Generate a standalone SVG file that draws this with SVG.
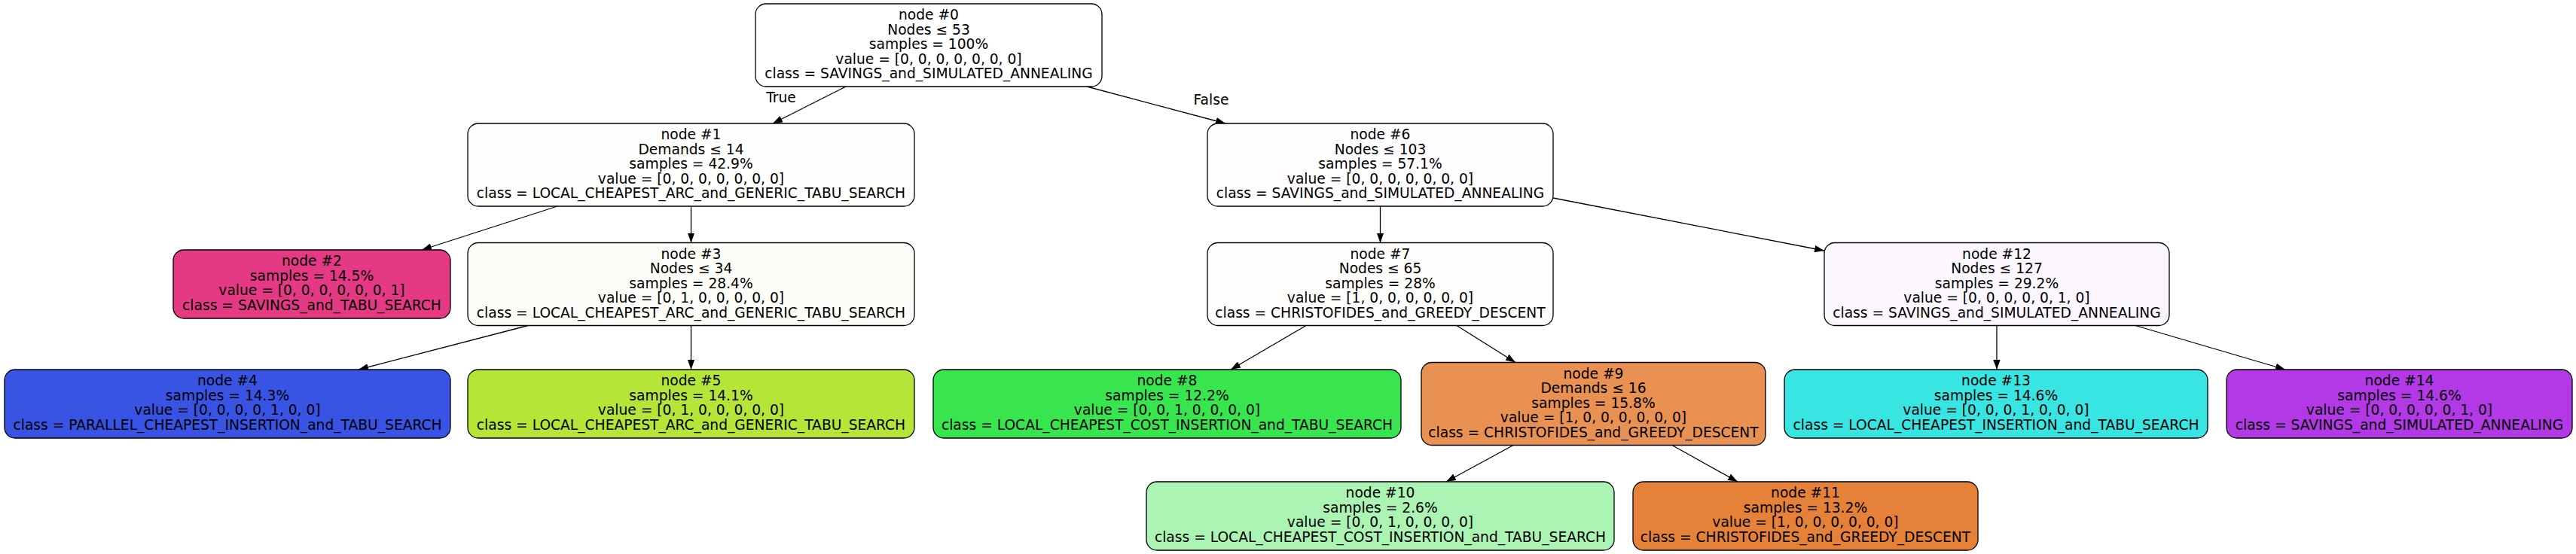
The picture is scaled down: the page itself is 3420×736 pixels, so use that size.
<svg xmlns="http://www.w3.org/2000/svg" width="3420" height="736" viewBox="0 0 3420 736">
<style>
.n rect{stroke:#000;stroke-width:1.3}
text{font-family:"DejaVu Sans",sans-serif;font-size:18.67px;fill:#000;text-anchor:middle}
.e path{stroke:#000;stroke-width:1.3;fill:none;marker-end:url(#ah)}
</style>
<defs>
<marker id="ah" viewBox="0 0 13 9.4" refX="13" refY="4.7" markerWidth="13" markerHeight="9.4" markerUnits="userSpaceOnUse" orient="auto">
<path d="M0,0 L13,4.7 L0,9.4 z" fill="#000"/>
</marker>
</defs>
<rect width="3420" height="736" fill="#fff"/>
<g class="e" id="edges">
<path d="M1123,115 L1026,164"/>
<path d="M1443,115 L1627,164"/>
<path d="M740,274 L560,332"/>
<path d="M917.5,274 L917.5,322.5"/>
<path d="M701,432.5 L476,491"/>
<path d="M917.5,432.5 L917.5,491"/>
<path d="M1832.5,274 L1832.5,322.5"/>
<path d="M2062,263 L2422,333"/>
<path d="M1734,432.5 L1634,491"/>
<path d="M1934,432.5 L2012,481.5"/>
<path d="M2651,432.5 L2651,491"/>
<path d="M2835,432.5 L3034,491"/>
<path d="M2009,591.5 L1920,640"/>
<path d="M2220,591.5 L2307,640"/>
<text x="1037" y="136">True</text>
<text x="1608" y="139">False</text>
</g>
<g class="n" id="node0">
<rect x="1003" y="5" width="460" height="110" rx="14" fill="#ffffff"/>
<text x="1233" y="26">node #0</text>
<text x="1233" y="45.5">Nodes ≤ 53</text>
<text x="1233" y="65">samples = 100%</text>
<text x="1233" y="84.5">value = [0, 0, 0, 0, 0, 0, 0]</text>
<text x="1233" y="104">class = SAVINGS_and_SIMULATED_ANNEALING</text>
</g>
<g class="n" id="node1">
<rect x="621" y="164" width="593" height="110" rx="14" fill="#fefffc"/>
<text x="917.5" y="185">node #1</text>
<text x="917.5" y="204.5">Demands ≤ 14</text>
<text x="917.5" y="224">samples = 42.9%</text>
<text x="917.5" y="243.5">value = [0, 0, 0, 0, 0, 0, 0]</text>
<text x="917.5" y="263">class = LOCAL_CHEAPEST_ARC_and_GENERIC_TABU_SEARCH</text>
</g>
<g class="n" id="node6">
<rect x="1603" y="164" width="459" height="110" rx="14" fill="#fefcff"/>
<text x="1832.5" y="185">node #6</text>
<text x="1832.5" y="204.5">Nodes ≤ 103</text>
<text x="1832.5" y="224">samples = 57.1%</text>
<text x="1832.5" y="243.5">value = [0, 0, 0, 0, 0, 0, 0]</text>
<text x="1832.5" y="263">class = SAVINGS_and_SIMULATED_ANNEALING</text>
</g>
<g class="n" id="node2">
<rect x="230" y="332" width="368" height="91" rx="14" fill="#e53985"/>
<text x="414" y="353.25">node #2</text>
<text x="414" y="372.75">samples = 14.5%</text>
<text x="414" y="392.25">value = [0, 0, 0, 0, 0, 0, 1]</text>
<text x="414" y="411.75">class = SAVINGS_and_TABU_SEARCH</text>
</g>
<g class="n" id="node3">
<rect x="621" y="322.5" width="593" height="110" rx="14" fill="#fcfdf8"/>
<text x="917.5" y="343.5">node #3</text>
<text x="917.5" y="363">Nodes ≤ 34</text>
<text x="917.5" y="382.5">samples = 28.4%</text>
<text x="917.5" y="402">value = [0, 1, 0, 0, 0, 0, 0]</text>
<text x="917.5" y="421.5">class = LOCAL_CHEAPEST_ARC_and_GENERIC_TABU_SEARCH</text>
</g>
<g class="n" id="node7">
<rect x="1603" y="322.5" width="459" height="110" rx="14" fill="#fffdfc"/>
<text x="1832.5" y="343.5">node #7</text>
<text x="1832.5" y="363">Nodes ≤ 65</text>
<text x="1832.5" y="382.5">samples = 28%</text>
<text x="1832.5" y="402">value = [1, 0, 0, 0, 0, 0, 0]</text>
<text x="1832.5" y="421.5">class = CHRISTOFIDES_and_GREEDY_DESCENT</text>
</g>
<g class="n" id="node12">
<rect x="2422" y="322.5" width="458" height="110" rx="14" fill="#fcf7fe"/>
<text x="2651" y="343.5">node #12</text>
<text x="2651" y="363">Nodes ≤ 127</text>
<text x="2651" y="382.5">samples = 29.2%</text>
<text x="2651" y="402">value = [0, 0, 0, 0, 0, 1, 0]</text>
<text x="2651" y="421.5">class = SAVINGS_and_SIMULATED_ANNEALING</text>
</g>
<g class="n" id="node4">
<rect x="6" y="491" width="592" height="91" rx="14" fill="#3954e5"/>
<text x="302" y="512.25">node #4</text>
<text x="302" y="531.75">samples = 14.3%</text>
<text x="302" y="551.25">value = [0, 0, 0, 0, 1, 0, 0]</text>
<text x="302" y="570.75">class = PARALLEL_CHEAPEST_INSERTION_and_TABU_SEARCH</text>
</g>
<g class="n" id="node5">
<rect x="621" y="491" width="593" height="91" rx="14" fill="#b6e539"/>
<text x="917.5" y="512.25">node #5</text>
<text x="917.5" y="531.75">samples = 14.1%</text>
<text x="917.5" y="551.25">value = [0, 1, 0, 0, 0, 0, 0]</text>
<text x="917.5" y="570.75">class = LOCAL_CHEAPEST_ARC_and_GENERIC_TABU_SEARCH</text>
</g>
<g class="n" id="node8">
<rect x="1239" y="491" width="621" height="91" rx="14" fill="#39e54f"/>
<text x="1549.5" y="512.25">node #8</text>
<text x="1549.5" y="531.75">samples = 12.2%</text>
<text x="1549.5" y="551.25">value = [0, 0, 1, 0, 0, 0, 0]</text>
<text x="1549.5" y="570.75">class = LOCAL_CHEAPEST_COST_INSERTION_and_TABU_SEARCH</text>
</g>
<g class="n" id="node9">
<rect x="1887" y="481.5" width="457" height="110" rx="14" fill="#e89152"/>
<text x="2115.5" y="502.5">node #9</text>
<text x="2115.5" y="522">Demands ≤ 16</text>
<text x="2115.5" y="541.5">samples = 15.8%</text>
<text x="2115.5" y="561">value = [1, 0, 0, 0, 0, 0, 0]</text>
<text x="2115.5" y="580.5">class = CHRISTOFIDES_and_GREEDY_DESCENT</text>
</g>
<g class="n" id="node13">
<rect x="2369" y="491" width="562" height="91" rx="14" fill="#39e5e3"/>
<text x="2650" y="512.25">node #13</text>
<text x="2650" y="531.75">samples = 14.6%</text>
<text x="2650" y="551.25">value = [0, 0, 0, 1, 0, 0, 0]</text>
<text x="2650" y="570.75">class = LOCAL_CHEAPEST_INSERTION_and_TABU_SEARCH</text>
</g>
<g class="n" id="node14">
<rect x="2956" y="491" width="459" height="91" rx="14" fill="#b239e5"/>
<text x="3185.5" y="512.25">node #14</text>
<text x="3185.5" y="531.75">samples = 14.6%</text>
<text x="3185.5" y="551.25">value = [0, 0, 0, 0, 0, 1, 0]</text>
<text x="3185.5" y="570.75">class = SAVINGS_and_SIMULATED_ANNEALING</text>
</g>
<g class="n" id="node10">
<rect x="1522" y="640" width="621" height="91" rx="14" fill="#abf4b3"/>
<text x="1832.5" y="661.25">node #10</text>
<text x="1832.5" y="680.75">samples = 2.6%</text>
<text x="1832.5" y="700.25">value = [0, 0, 1, 0, 0, 0, 0]</text>
<text x="1832.5" y="719.75">class = LOCAL_CHEAPEST_COST_INSERTION_and_TABU_SEARCH</text>
</g>
<g class="n" id="node11">
<rect x="2168" y="640" width="458" height="91" rx="14" fill="#e58139"/>
<text x="2397" y="661.25">node #11</text>
<text x="2397" y="680.75">samples = 13.2%</text>
<text x="2397" y="700.25">value = [1, 0, 0, 0, 0, 0, 0]</text>
<text x="2397" y="719.75">class = CHRISTOFIDES_and_GREEDY_DESCENT</text>
</g>
</svg>
